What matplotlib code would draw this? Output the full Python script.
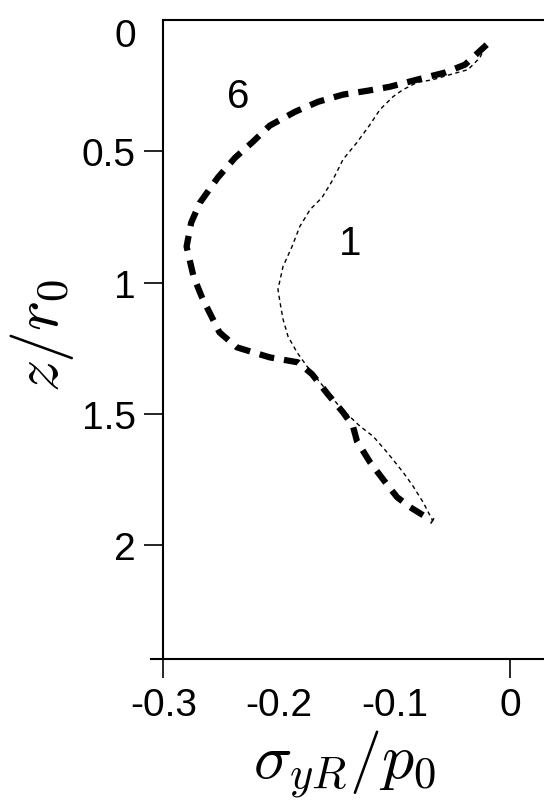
import matplotlib
matplotlib.use("Agg")
import matplotlib.pyplot as plt
import matplotlib.transforms as mtransforms
import numpy as np

plt.rcParams['font.family'] = ['Liberation Sans', 'DejaVu Sans']
plt.rcParams['mathtext.fontset'] = 'cm'

# curva 6 (tracejado grosso)
x6 = [-0.0202, -0.039, -0.0563, -0.0805, -0.104, -0.123, -0.1446, -0.166, -0.186,
      -0.208, -0.2225, -0.238, -0.253, -0.2684, -0.276, -0.280, -0.274, -0.267,
      -0.2645, -0.2515, -0.2364, -0.208, -0.1835, -0.1714, -0.1576, -0.1446,
      -0.136, -0.1325, -0.1212, -0.108, -0.0978, -0.0866, -0.0667]
z6 = [0.094, 0.170, 0.200, 0.227, 0.254, 0.269, 0.284, 0.311, 0.349,
      0.402, 0.463, 0.524, 0.600, 0.695, 0.771, 0.862, 0.976, 1.052,
      1.075, 1.189, 1.246, 1.284, 1.303, 1.348, 1.425, 1.493,
      1.546, 1.603, 1.683, 1.759, 1.816, 1.854, 1.908]

# curva 1 (pontilhado fino)
x1 = [-0.0216, -0.026, -0.0364, -0.052, -0.0667, -0.0805, -0.0926, -0.1013, -0.1126,
      -0.1212, -0.1325, -0.1446, -0.1532, -0.1628, -0.173, -0.182, -0.1887, -0.1965,
      -0.2009, -0.1991, -0.1965, -0.1922, -0.1844, -0.1758, -0.1645, -0.1472,
      -0.1299, -0.1186, -0.1065, -0.0926, -0.084, -0.0753, -0.0667]
z1 = [0.101, 0.143, 0.189, 0.208, 0.227, 0.238, 0.265, 0.292, 0.341,
      0.398, 0.466, 0.531, 0.607, 0.676, 0.721, 0.786, 0.862, 0.938,
      1.025, 1.075, 1.139, 1.204, 1.265, 1.318, 1.379, 1.474,
      1.546, 1.584, 1.645, 1.721, 1.774, 1.835, 1.908]

xticks = [-0.3, -0.2, -0.1, 0.0]
xticklabels = ['-0.3', '-0.2', '-0.1', '0']
yticks = [0, 0.5, 1, 1.5, 2]
yticklabels = ['0', '0.5', '1', '1.5', '2']

fig = plt.figure(figsize=(5.44, 8.03), dpi=100)
ax = fig.add_axes([151 / 544, 143 / 803, 1 - 151 / 544, (660 - 21) / 803])

ax.plot(x1, z1, color='black', lw=1.0, dashes=(3, 2.5))
ax.plot(x6, z6, color='black', lw=4.5, dashes=(2.4, 1.6), solid_capstyle='butt')

ax.set_xlim(-0.3108, 0.0294)
ax.set_ylim(2.432, 0)

ax.spines['right'].set_visible(False)
ax.spines['left'].set_position(('data', -0.3))
ax.spines['left'].set_bounds(0, 2.432)
ax.spines['top'].set_bounds(-0.3, 0.0294)
for s in ['left', 'top', 'bottom']:
    ax.spines[s].set_linewidth(1.5)

ax.set_xticks(xticks)
ax.set_xticklabels(xticklabels, fontsize=28)
ax.set_yticks(yticks)
ax.set_yticklabels(yticklabels, fontsize=28)
ax.tick_params(axis='both', direction='out', length=14, width=1.2, pad=6)
ax.tick_params(top=False, right=False)
for i in [1, 2]:
    ax.xaxis.get_major_ticks()[i].tick1line.set_visible(False)
ax.yaxis.get_major_ticks()[0].tick1line.set_visible(False)

# o rotulo "0" do eixo z fica um pouco abaixo da linha do topo
lbl0 = ax.get_yticklabels()[0]
lbl0.set_transform(lbl0.get_transform() +
                   mtransforms.ScaledTranslation(0, -12 / 100, fig.dpi_scale_trans))

ax.text(-0.235, 0.29, '6', fontsize=29, ha='center', va='center')
ax.text(-0.138, 0.85, '1', fontsize=29, ha='center', va='center')

fig.text(42 / 544, 1 - 336 / 803, r'$z/r_0$', fontsize=46, rotation=90,
         ha='center', va='center')
fig.text(345 / 544, 1 - 765 / 803, r'$\sigma_{yR}/p_0$', fontsize=46,
         ha='center', va='center')

fig.savefig('out.png', dpi=100)
